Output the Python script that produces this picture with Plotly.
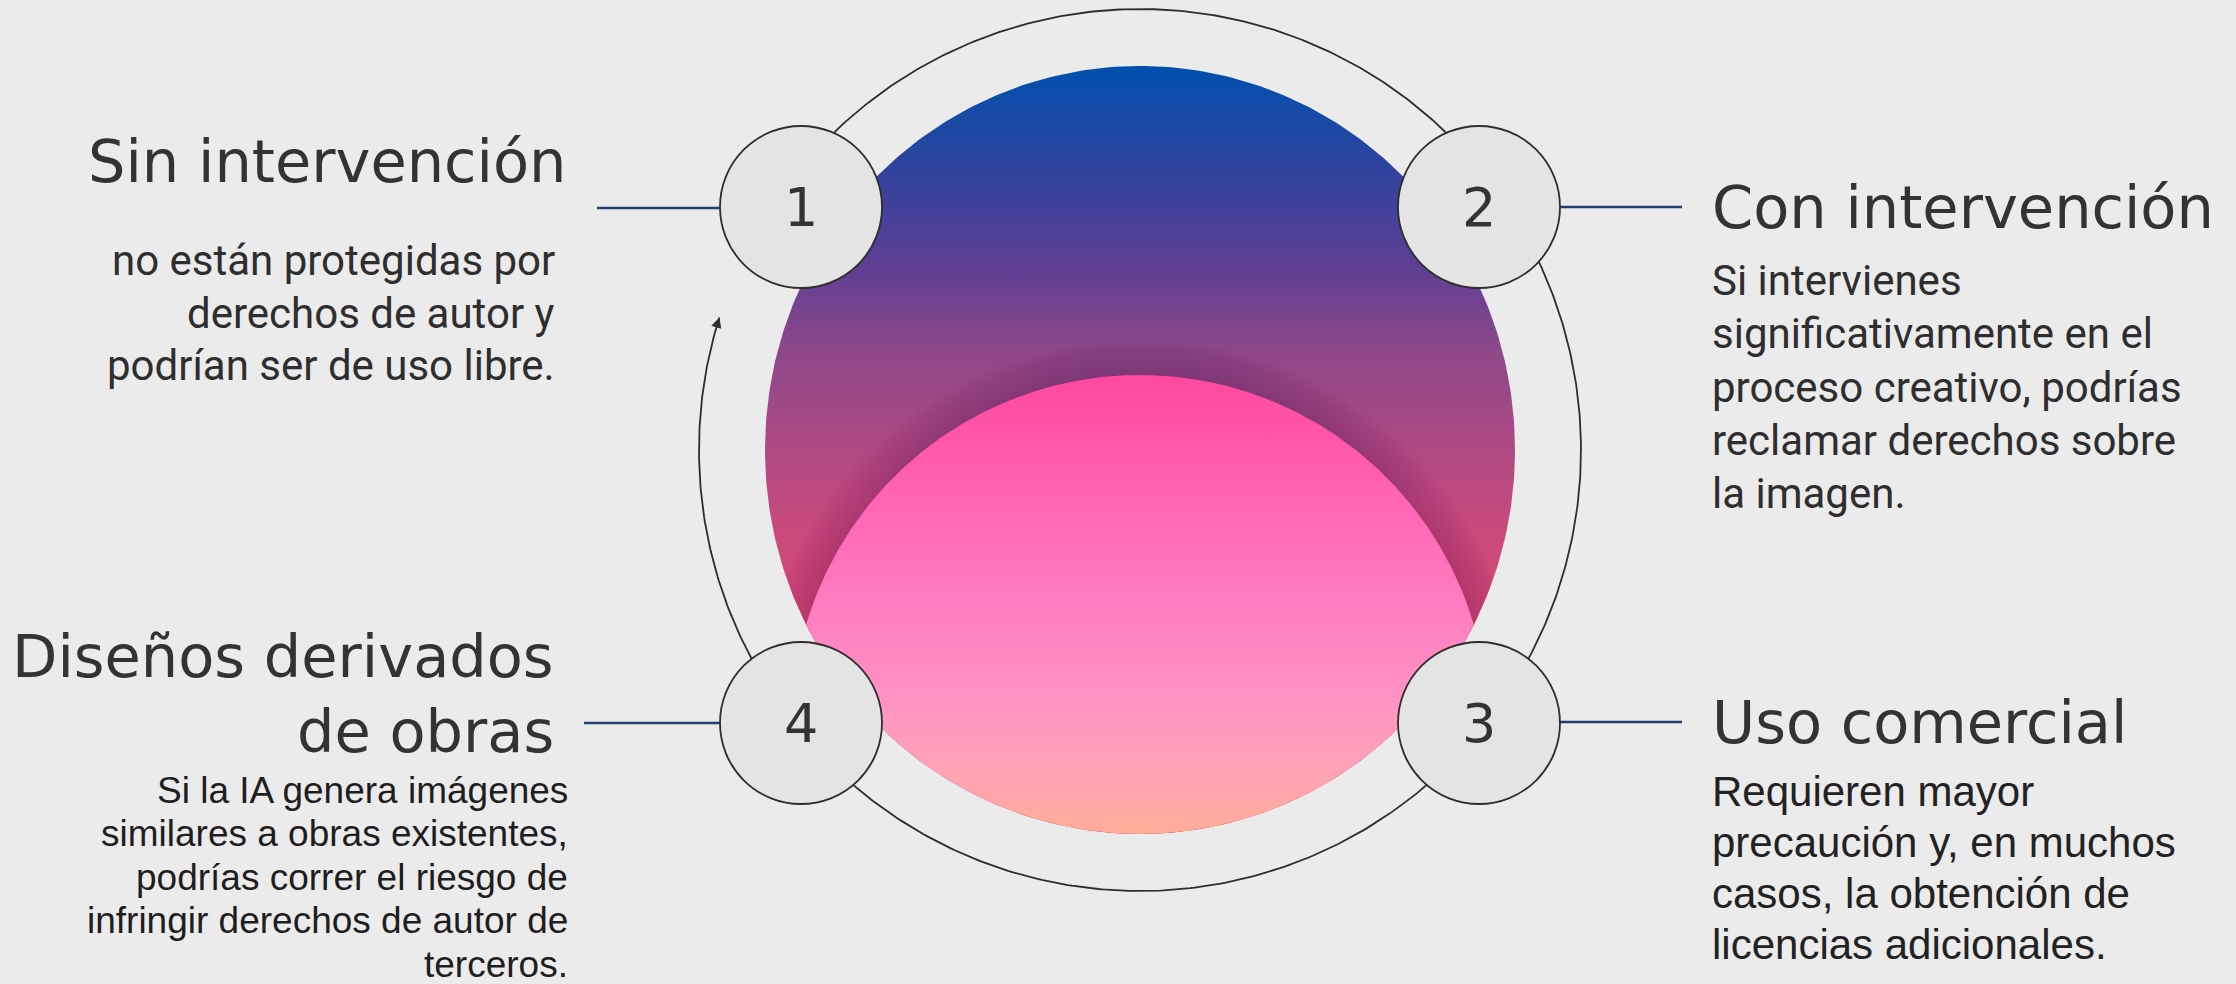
import numpy as np
import plotly.graph_objects as go

W, H = 2236, 984

# ---------------- data (content) ----------------
step_numbers = ["1", "2", "3", "4"]
step_titles = [
    ["Sin intervención"],
    ["Con intervención"],
    ["Uso comercial"],
    ["Diseños derivados", "de obras"],
]
step_descriptions = [
    ["no están protegidas por", "derechos de autor y", "podrían ser de uso libre."],
    ["Si intervienes", "significativamente en el", "proceso creativo, podrías",
     "reclamar derechos sobre", "la imagen."],
    ["Requieren mayor", "precaución y, en muchos", "casos, la obtención de",
     "licencias adicionales."],
    ["Si la IA genera imágenes", "similares a obras existentes,",
     "podrías correr el riesgo de", "infringir derechos de autor de", "terceros."],
]

# ---------------- layout / style ----------------
CX, CY = 1140, 450            # centre of the composition
RING_R = 441
BIG_RX, BIG_RY = 375, 384     # gradient disc
PINK_CY, PINK_R = 723, 348    # inner pink disc
badge_centers = [(801, 207), (1479, 207), (1479, 723), (801, 723)]
badge_r = 81
connectors = [(597, 720, 208), (1560, 1682, 207), (1560, 1682, 722), (584, 720, 723)]
title_cfg = [
    dict(x=568, anchor="right", baselines=[182]),
    dict(x=1710, anchor="left", baselines=[228]),
    dict(x=1710, anchor="left", baselines=[743]),
    dict(x=556, anchor="right", baselines=[677, 752]),
]
desc_cfg = [
    dict(x=557, anchor="right", first=275, step=52.5, font="Roboto", size=42, color="#2e2e2e"),
    dict(x=1710, anchor="left", first=295, step=53.3, font="Roboto", size=42, color="#2e2e2e"),
    dict(x=1710, anchor="left", first=806, step=51, font="Liberation Sans", size=42, color="#222222"),
    dict(x=570, anchor="right", first=803, step=43.5, font="Liberation Sans", size=37, color="#1e1e1e"),
]
TITLE_FONT, TITLE_SIZE = "DejaVu Sans", 59
BG = "#ebebeb"
MID = 0.345  # baseline -> middle of text box (fraction of font size)


def ray_ellipse(p0, d, c, rx, ry):
    ux, uy = (p0[0] - c[0]) / rx, (p0[1] - c[1]) / ry
    vx, vy = d[0] / rx, d[1] / ry
    a = vx * vx + vy * vy
    b = ux * vx + uy * vy
    cc = ux * ux + uy * uy - 1
    return (-b + np.sqrt(b * b - a * cc)) / a


def intersect_poly(extra=0.0, n=720):
    p0 = (CX, 600.0)
    xs, ys = [], []
    for phi in np.linspace(0, 2 * np.pi, n):
        d = (np.cos(phi), np.sin(phi))
        t1 = ray_ellipse(p0, d, (CX, CY), BIG_RX, BIG_RY)
        t2 = ray_ellipse(p0, d, (CX, PINK_CY), PINK_R + extra, PINK_R + extra)
        t = min(t1, t2)
        xs.append(p0[0] + t * d[0])
        ys.append(p0[1] + t * d[1])
    return xs, ys


fig = go.Figure()

# gradient disc
tt = np.linspace(0, 2 * np.pi, 400)
fig.add_trace(go.Scatter(
    x=CX + BIG_RX * np.cos(tt), y=CY + BIG_RY * np.sin(tt),
    mode="lines", line=dict(width=0, color="rgba(0,0,0,0)"), fill="toself",
    fillgradient=dict(type="vertical", start=CY - BIG_RY, stop=CY + BIG_RY,
                      colorscale=[[0, "#0050ae"], [0.08, "#1c48a3"], [0.18, "#40409a"],
                                  [0.27, "#623f92"], [0.36, "#8a4789"], [0.48, "#aa4985"],
                                  [0.6, "#c84a7c"], [0.72, "#da4876"], [1, "#e2406e"]]),
    hoverinfo="skip"))

# soft shadow around pink disc (many faint layers)
for ext in np.arange(36, 0, -3):
    sx, sy = intersect_poly(float(ext))
    fig.add_trace(go.Scatter(x=sx, y=sy, mode="lines", line=dict(width=0, color="rgba(0,0,0,0)"),
                             fill="toself", fillcolor="rgba(45,10,55,0.014)", hoverinfo="skip"))

# pink disc
px_, py_ = intersect_poly(0)
fig.add_trace(go.Scatter(
    x=px_, y=py_, mode="lines", line=dict(width=0, color="rgba(0,0,0,0)"), fill="toself",
    fillgradient=dict(type="vertical", start=PINK_CY - PINK_R, stop=CY + BIG_RY,
                      colorscale=[[0, "#ff48a0"], [0.25, "#ff62b2"], [0.5, "#ff7cc0"],
                                  [0.7, "#ff92c4"], [0.85, "#ffa2b8"], [1, "#ffac98"]]),
    hoverinfo="skip"))

# outer ring (clockwise, ending with an arrow before badge 1)
th_start, th_end = np.deg2rad(144), np.deg2rad(162.5 - 360)
th = np.linspace(th_start, th_end, 600)
fig.add_trace(go.Scatter(x=CX + RING_R * np.cos(th), y=CY - RING_R * np.sin(th), mode="lines",
                         line=dict(color="#2d2d2d", width=1.8), hoverinfo="skip"))
tipx, tipy = CX + RING_R * np.cos(th_end), CY - RING_R * np.sin(th_end)
dirx, diry = np.sin(th_end), np.cos(th_end)
fig.add_annotation(x=tipx, y=tipy, ax=tipx - 12 * dirx, ay=tipy - 12 * diry, axref="x", ayref="y",
                   xref="x", yref="y", text="", showarrow=True, arrowhead=2, arrowsize=1.3,
                   arrowwidth=1.6, arrowcolor="#2d2d2d", standoff=0)

# connectors
for x0, x1, y in connectors:
    fig.add_shape(type="line", x0=x0, x1=x1, y0=y, y1=y, xref="x", yref="y",
                  line=dict(color="#1f3f6f", width=2.5))

# badges
for (bx, by), num in zip(badge_centers, step_numbers):
    fig.add_shape(type="circle", x0=bx - badge_r, x1=bx + badge_r, y0=by - badge_r, y1=by + badge_r,
                  xref="x", yref="y", fillcolor="#e4e4e4", line=dict(color="#2e2e2e", width=1.8))
    fig.add_annotation(x=bx, y=by, xref="x", yref="y", text=num, showarrow=False,
                       xanchor="center", yanchor="middle",
                       font=dict(family="DejaVu Sans", size=54, color="#333333"))

# titles
for lines, cfg in zip(step_titles, title_cfg):
    for line, base in zip(lines, cfg["baselines"]):
        fig.add_annotation(x=cfg["x"], y=base - MID * TITLE_SIZE, xref="x", yref="y", text=line,
                           showarrow=False, xanchor=cfg["anchor"], yanchor="middle",
                           font=dict(family=TITLE_FONT, size=TITLE_SIZE, color="#333333"))

# descriptions
for lines, cfg in zip(step_descriptions, desc_cfg):
    for i, line in enumerate(lines):
        base = cfg["first"] + i * cfg["step"]
        fig.add_annotation(x=cfg["x"], y=base - MID * cfg["size"], xref="x", yref="y", text=line,
                           showarrow=False, xanchor=cfg["anchor"], yanchor="middle",
                           font=dict(family=cfg["font"], size=cfg["size"], color=cfg["color"]))

fig.update_layout(
    width=W, height=H, margin=dict(l=0, r=0, t=0, b=0),
    paper_bgcolor=BG, plot_bgcolor=BG, showlegend=False,
    xaxis=dict(range=[0, W], visible=False, fixedrange=True),
    yaxis=dict(range=[H, 0], visible=False, fixedrange=True),
)

fig.write_html("out.html", config={"displayModeBar": False},
               post_script="document.body.style.margin='0';document.body.style.overflow='hidden';")
